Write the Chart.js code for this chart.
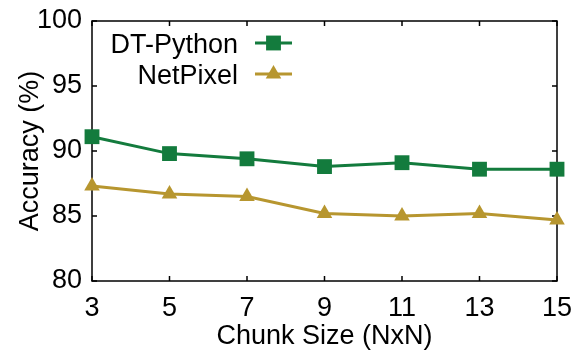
<!DOCTYPE html>
<html>
<head>
	<title>Accuracy vs chunk size</title>
	<script src="https://cdn.jsdelivr.net/npm/chart.js@4.4.0/dist/chart.umd.min.js"></script>
	<style>
		html, body { margin: 0; padding: 0; background: #fff; }
		#wrap { width: 576px; height: 351px; }
	</style>
</head>
<body>
	<div id="wrap"><canvas id="myChart"></canvas></div>
	<script>
		const chunkSizes = ["3", "5", "7", "9", "11", "13", "15"];
		const dtPython = [91.1, 89.8, 89.4, 88.8, 89.1, 88.6, 88.6];
		const netPixel = [87.3, 86.7, 86.5, 85.2, 85.0, 85.2, 84.7];
		const yTicks = [80, 85, 90, 95, 100];

		const GREEN = "#137b3d";
		const GOLD = "#b7962f";
		const FONT = "'Liberation Sans', Arial, sans-serif";
		const FS = 27;

		// frame with inward ticks on all four sides + legend inside the plot
		const framePlugin = {
			id: "frame",
			beforeDatasetsDraw(chart) {
				const { ctx, chartArea: a, scales } = chart;
				ctx.save();
				ctx.strokeStyle = "#000";
				ctx.lineWidth = 1.5;
				ctx.strokeRect(a.left, a.top, a.right - a.left, a.bottom - a.top);
				const len = 5;
				ctx.beginPath();
				chunkSizes.forEach((c, i) => {
					const x = scales.x.getPixelForValue(i);
					ctx.moveTo(x, a.bottom); ctx.lineTo(x, a.bottom - len);
					ctx.moveTo(x, a.top); ctx.lineTo(x, a.top + len);
				});
				yTicks.forEach(v => {
					const y = scales.y.getPixelForValue(v);
					ctx.moveTo(a.left, y); ctx.lineTo(a.left + len, y);
					ctx.moveTo(a.right, y); ctx.lineTo(a.right - len, y);
				});
				ctx.stroke();
				ctx.restore();
			},
			afterDraw(chart) {
				const { ctx, chartArea: a } = chart;
				ctx.save();
				ctx.font = FS + "px " + FONT;
				ctx.textAlign = "right";
				ctx.textBaseline = "middle";
				chart.data.datasets.forEach((ds, i) => {
					const y = a.top + 22 + i * 31;
					const textRight = a.left + 146;
					ctx.fillStyle = "#000";
					ctx.fillText(ds.label, textRight, y + 3);
					const x0 = textRight + 17, x1 = textRight + 54;
					ctx.strokeStyle = ds.borderColor;
					ctx.lineWidth = ds.borderWidth;
					ctx.beginPath();
					ctx.moveTo(x0, y); ctx.lineTo(x1, y);
					ctx.stroke();
					ctx.fillStyle = ds.pointBackgroundColor;
					Chart.helpers.drawPoint(ctx, {
						pointStyle: ds.pointStyle,
						radius: ds.pointRadius,
						borderWidth: 0,
						rotation: 0
					}, (x0 + x1) / 2, y);
				});
				ctx.restore();
			}
		};

		new Chart("myChart", {
			type: "line",
			data: {
				labels: chunkSizes,
				datasets: [{
					label: "DT-Python",
					data: dtPython,
					borderColor: GREEN,
					backgroundColor: GREEN,
					pointBackgroundColor: GREEN,
					pointBorderColor: GREEN,
					borderWidth: 3,
					pointStyle: "rect",
					pointRadius: 10.5,
					pointBorderWidth: 0,
					clip: false
				}, {
					label: "NetPixel",
					data: netPixel,
					borderColor: GOLD,
					backgroundColor: GOLD,
					pointBackgroundColor: GOLD,
					pointBorderColor: GOLD,
					borderWidth: 3,
					pointStyle: "triangle",
					pointRadius: 9,
					pointBorderWidth: 0,
					clip: false
				}]
			},
			options: {
				responsive: true,
				maintainAspectRatio: false,
				animation: false,
				layout: { padding: { top: 21, right: 19, left: 0, bottom: 0 } },
				plugins: { legend: { display: false }, tooltip: { enabled: false } },
				scales: {
					x: {
						type: "category",
						offset: false,
						grid: { display: false, drawTicks: false },
						border: { display: false },
						ticks: { color: "#000", font: { family: FONT, size: FS }, padding: 11, maxRotation: 0, autoSkip: false },
						title: { display: true, text: "Chunk Size (NxN)", color: "#000", font: { family: FONT, size: FS }, padding: { top: 0, bottom: -2 } },
						afterFit(scale) { scale.height = 70; scale.paddingLeft = 0; scale.paddingRight = 0; }
					},
					y: {
						min: 80,
						max: 100,
						afterBuildTicks(scale) { scale.ticks = yTicks.map(v => ({ value: v })); },
						grid: { display: false, drawTicks: false },
						border: { display: false },
						ticks: { color: "#000", font: { family: FONT, size: FS }, padding: 10 },
						title: { display: true, text: "Accuracy (%)", color: "#000", font: { family: FONT, size: FS }, padding: { top: 14, bottom: 0 } },
						afterFit(scale) { scale.width = 92; scale.paddingTop = 0; scale.paddingBottom = 0; }
					}
				}
			},
			plugins: [framePlugin]
		});
	</script>
</body>
</html>
